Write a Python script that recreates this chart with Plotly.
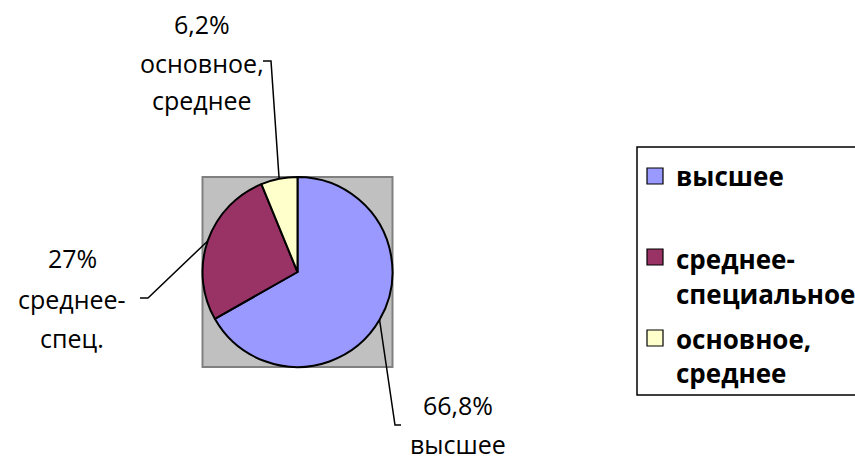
import math
import plotly.graph_objects as go

# ---- data ----
categories = ["высшее", "среднее-специальное", "основное, среднее"]
legend_lines = [["высшее"], ["среднее-", "специальное"], ["основное,", "среднее"]]
values = [66.8, 27.0, 6.2]
short_names = [["высшее"], ["среднее-", "спец."], ["основное,", "среднее"]]
colors = ["#9999FF", "#993366", "#FFFFCC"]

W, H = 855, 460
FONT = "Open Sans, DejaVu Sans, sans-serif"

# pie geometry (pixels)
cx, cy, r = 297.5, 272.0, 95.0
dom_x = [(cx - r) / W, (cx + r) / W]
dom_y = [1 - (cy + r) / H, 1 - (cy - r) / H]


def px(x):
    return x / W


def py(y):
    return 1 - y / H


def pct(v):
    s = ("%.1f" % v).rstrip("0").rstrip(".")
    return s.replace(".", ",") + "%"


fig = go.Figure()
fig.add_trace(go.Pie(
    labels=categories,
    values=values,
    sort=False,
    direction="clockwise",
    rotation=0,
    textinfo="none",
    hoverinfo="label+percent",
    showlegend=False,
    marker=dict(colors=colors, line=dict(color="black", width=2)),
    domain=dict(x=dom_x, y=dom_y),
))

shapes = []
# gray square behind pie
shapes.append(dict(type="rect", xref="paper", yref="paper", layer="below",
                   x0=dom_x[0], x1=dom_x[1], y0=dom_y[0], y1=dom_y[1],
                   fillcolor="#C0C0C0", line=dict(color="#808080", width=2)))

# data labels with leader lines
label_cfg = [
    dict(end=(395, 425), tick=6, tx=458, base=[414, 453]),
    dict(end=(148, 298), tick=-8, tx=72, base=[267, 308, 347]),
    dict(end=(271, 61), tick=-8, tx=202, base=[33, 72, 109]),
]

annotations = []
total = sum(values)
cum = 0.0
for i, v in enumerate(values):
    mid = (cum + v / 2) / total * 2 * math.pi
    cum += v
    sx = cx + r * math.sin(mid)
    sy = cy - r * math.cos(mid)
    cfg = label_cfg[i]
    ex, ey = cfg["end"]
    path = "M %f,%f L %f,%f L %f,%f" % (px(sx), py(sy), px(ex), py(ey), px(ex + cfg["tick"]), py(ey))
    shapes.append(dict(type="path", xref="paper", yref="paper", path=path,
                       line=dict(color="black", width=1.5)))
    lines = [pct(v)] + short_names[i]
    for ln, b in zip(lines, cfg["base"]):
        annotations.append(dict(text=ln, x=px(cfg["tx"]), y=py(b - 9), xref="paper", yref="paper",
                                xanchor="center", yanchor="middle", showarrow=False,
                                font=dict(family=FONT, size=25, color="black")))

# legend box (drawn as layout decoration)
shapes.append(dict(type="rect", xref="paper", yref="paper",
                   x0=px(637), x1=px(880), y0=py(395), y1=py(147),
                   fillcolor="white", line=dict(color="black", width=1.5), layer="below"))
leg_sym_top = [168, 249, 330]
leg_base = [[185], [268, 303], [348, 382]]
for i, c in enumerate(colors):
    t = leg_sym_top[i]
    shapes.append(dict(type="rect", xref="paper", yref="paper",
                       x0=px(647), x1=px(663), y0=py(t + 16), y1=py(t),
                       fillcolor=c, line=dict(color="black", width=1.2)))
    for ln, b in zip(legend_lines[i], leg_base[i]):
        annotations.append(dict(text=ln, x=px(674), y=py(b - 9), xref="paper", yref="paper",
                                xanchor="left", yanchor="middle", showarrow=False,
                                font=dict(family=FONT, size=26, color="black", weight="bold")))

fig.update_layout(
    width=W, height=H,
    margin=dict(l=0, r=0, t=0, b=0, autoexpand=False),
    paper_bgcolor="white", plot_bgcolor="white",
    shapes=shapes,
    annotations=annotations,
    showlegend=False,
)

fig.write_html("out.html", config={"displayModeBar": False},
               post_script="document.body.style.margin='0px';")
